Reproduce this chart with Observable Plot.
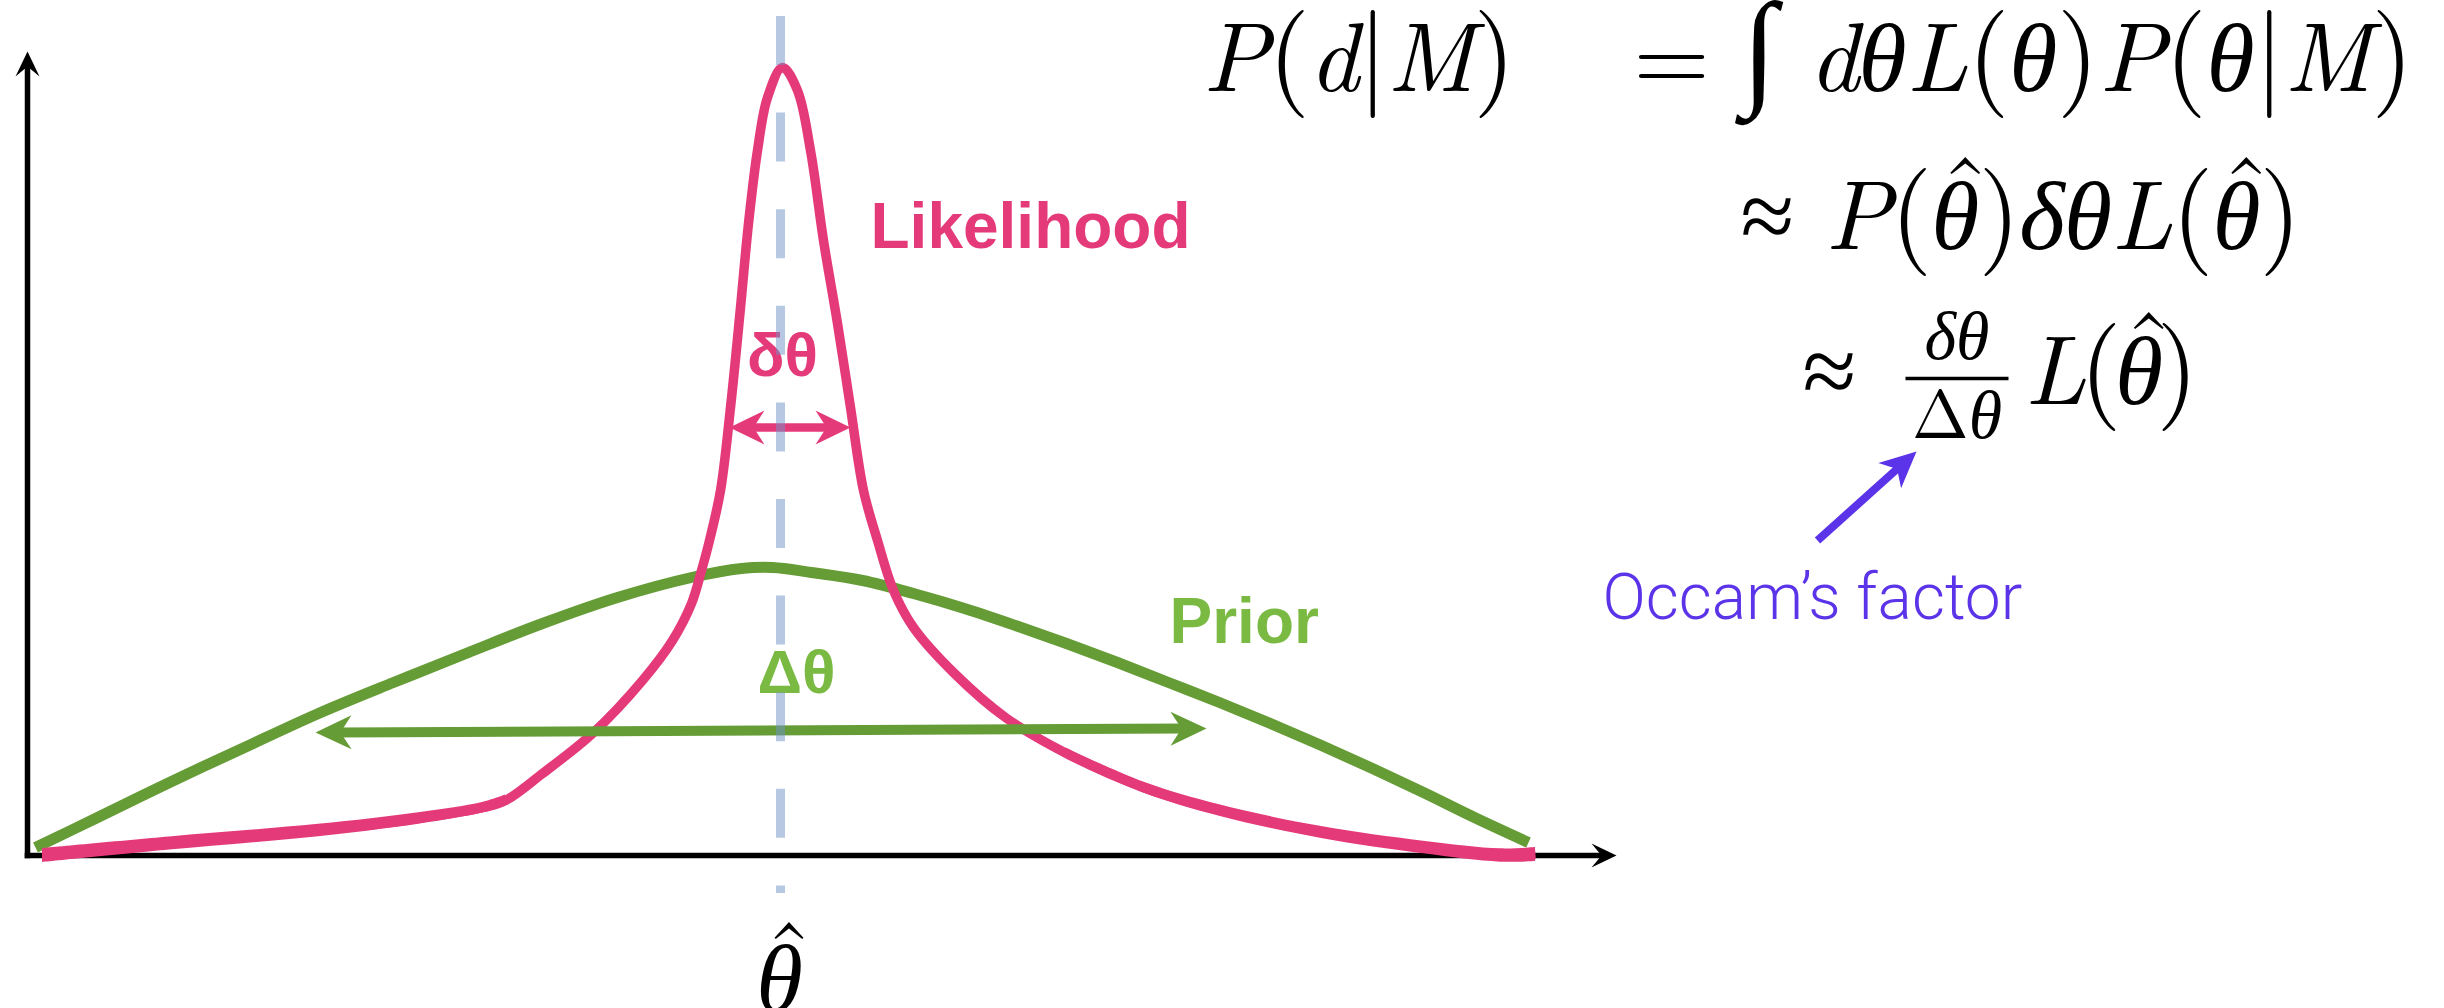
<!DOCTYPE html>
<html>
<head>
<meta charset="utf-8">
<script src="https://cdn.jsdelivr.net/npm/d3@7"></script>
<script src="https://cdn.jsdelivr.net/npm/@observablehq/plot@0.6"></script>
<style>
  html, body { margin: 0; padding: 0; background: #fff; overflow: hidden; }
  #chart svg { display: block; }
</style>
</head>
<body>
<div id="chart"></div>
<script>
// ---- data (θ measured from θ̂, density in arbitrary units) ----
const priorTheta   = [-7.45, -6.85, -6.11, -5.36, -4.62, -3.87, -3.12, -2.38, -1.63, -0.89, -0.39, -0.08, 0.31, 0.82, 1.33, 1.84, 2.35, 2.86, 3.37, 3.88, 4.39, 4.90, 5.41, 5.92, 6.43, 6.94, 7.48];
const priorDensity = [ 0.08,  0.37,  0.73,  1.08,  1.42,  1.73,  2.03,  2.32,  2.58,  2.78,  2.87,  2.88, 2.83, 2.75, 2.62, 2.47, 2.30, 2.12, 1.93, 1.73, 1.53, 1.32, 1.10, 0.87, 0.63, 0.38, 0.13];

const likeTheta   = [-7.38, -6.11, -4.62, -3.62, -2.97, -2.75, -2.38, -1.88, -1.38, -1.08, -0.89, -0.79, -0.71, -0.60, -0.50, -0.40, -0.32, -0.23, -0.13, 0.02, 0.17, 0.30, 0.43, 0.57, 0.70, 0.83, 0.97, 1.13, 1.33, 1.74, 2.25, 2.86, 3.63, 4.39, 5.41, 6.43, 7.20, 7.55];
const likeDensity = [ 0.00,  0.12,  0.25,  0.37,  0.48,  0.55,  0.82,  1.22,  1.75,  2.15,  2.52,  2.85,  3.15,  3.65,  4.48,  5.48,  6.32,  7.05,  7.58, 7.88, 7.65, 7.05, 6.15, 5.32, 4.48, 3.65, 3.15, 2.65, 2.28, 1.82, 1.38, 1.02, 0.68, 0.45, 0.23, 0.08, 0.00, 0.01];

const axisOrigin = [-7.53, 0];
const axisXEnd = 8.36;
const axisYEnd = 8.04;

const thetaHat = 0;
const thetaHatRule = [8.39, -0.38];          // top, bottom of the dashed guide

const smallWidthTheta = [-0.51, 0.70];       // δθ arrow ends
const smallWidthP = [4.28, 4.28];
const wideWidthTheta = [-4.65, 4.26];        // Δθ arrow ends
const wideWidthP = [1.23, 1.27];

const curveLabels = ["Likelihood", "Prior"];
const curveLabelTheta = [0.90, 3.89];
const curveLabelP = [6.08, 2.13];

const widthLabels = ["δθ", "Δθ"];
const widthLabelTheta = [0.02, 0.16];
const widthLabelP = [4.80, 1.63];

const eqTexts = ["P(d|M)", "= ∫ dθL(θ)P(θ|M)", "≈ P(θ̂)δθL(θ̂)", "≈", "L(θ̂)"];
const eqTheta = [4.22, 8.53, 9.60, 10.22, 12.44];
const eqP = [7.65, 7.65, 6.07, 4.52, 4.52];

const fracTexts = ["δθ", "Δθ"];
const fracTheta = [11.56, 11.58];
const fracP = [4.97, 4.18];
const fracBarTheta = [11.25, 12.28];
const fracBarP = 4.77;

const occamText = "Occam’s factor";
const occamTextPos = [8.22, 2.37];
const occamArrowTheta = [10.37, 11.36];
const occamArrowP = [3.15, 4.04];

const hatLabel = "θ̂";
const hatLabelPos = [-0.01, -1.55];

// ---- styles ----
const pink = "#e53a7a", green = "#659c36", greenText = "#7aba43", purple = "#5b33e8", guideBlue = "#6f91c7";
const W = 2444, H = 1008;
const PX = 100; // pixels per data unit (both axes)

const prior = priorTheta.map((t, i) => ({theta: t, p: priorDensity[i]}));
const like = likeTheta.map((t, i) => ({theta: t, p: likeDensity[i]}));
const nL = like.length;

// brush-like stroke: the likelihood line gets thicker towards both tails
const baseW = 9.5, tailW = 14;
function taper(indices, wStart, wEnd) {
  return indices.map((i, k) => {
    const d = like[i];
    const a = like[Math.max(i - 1, 0)], b = like[Math.min(i + 1, nL - 1)];
    const slope = (b.p - a.p) / (b.theta - a.theta);
    const w = wStart + (wEnd - wStart) * k / (indices.length - 1);
    const half = w * Math.sqrt(1 + slope * slope) / 2 / PX;
    return {theta: d.theta, lo: d.p - half, hi: d.p + half};
  });
}
const leftTail = taper([0, 1, 2, 3, 4, 5], tailW, baseW);
const rightTail = taper([nL - 7, nL - 6, nL - 5, nL - 4, nL - 3, nL - 2, nL - 1], baseW, tailW);

function headSymbol(angleDeg, L, Wd, N) {
  const a = angleDeg * Math.PI / 180, c = Math.cos(a), s = Math.sin(a);
  const pts = [[0, 0], [-L, -Wd], [-N, 0], [-L, Wd]].map(([x, y]) => [x * c - y * s, x * s + y * c]);
  return {draw(ctx) { ctx.moveTo(pts[0][0], pts[0][1]); for (let i = 1; i < pts.length; ++i) ctx.lineTo(pts[i][0], pts[i][1]); ctx.closePath(); }};
}

// arrow from (t1,p1) to (t2,p2); heads at "end" or "both"
function arrow(t1, p1, t2, p2, {color, width, L, Wd, N, heads = "end"}) {
  const dx = (t2 - t1) * PX, dy = (p2 - p1) * PX;
  const len = Math.hypot(dx, dy);
  const ux = (t2 - t1) / (len / PX), uy = (p2 - p1) / (len / PX);
  const cut = (N - 3) / PX;
  const s1 = heads === "both" ? [t1 + ux * cut, p1 + uy * cut] : [t1, p1];
  const s2 = [t2 - ux * cut, p2 - uy * cut];
  const ang = Math.atan2(-dy, dx) * 180 / Math.PI;
  const marks = [
    Plot.link([0], {x1: s1[0], y1: s1[1], x2: s2[0], y2: s2[1], stroke: color, strokeWidth: width, strokeLinecap: "butt"}),
    Plot.dot([0], {x: t2, y: p2, r: 5, symbol: headSymbol(ang, L, Wd, N), fill: color, stroke: "none"})
  ];
  if (heads === "both") marks.push(Plot.dot([0], {x: t1, y: p1, r: 5, symbol: headSymbol(ang + 180, L, Wd, N), fill: color, stroke: "none"}));
  return marks;
}

const sansBold = "'Helvetica Neue', 'Liberation Sans', Arial, sans-serif";
const serif = "'Latin Modern Roman', 'Liberation Serif', 'DejaVu Serif', serif";

const chart = Plot.plot({
  width: W,
  height: H,
  margin: 0,
  x: {domain: [-780 / PX, (W - 780) / PX], range: [0, W], axis: null},
  y: {domain: [(855 - H) / PX, 855 / PX], range: [H, 0], axis: null},
  style: {background: "white", overflow: "visible"},
  marks: [
    // axes
    ...arrow(axisOrigin[0] - 0.028, axisOrigin[1], axisXEnd, axisOrigin[1], {color: "black", width: 5.5, L: 25, Wd: 12, N: 15}),
    ...arrow(axisOrigin[0], axisOrigin[1] - 0.028, axisOrigin[0], axisYEnd, {color: "black", width: 5.5, L: 25, Wd: 12, N: 15}),
    // prior
    Plot.line(prior, {x: "theta", y: "p", stroke: green, strokeWidth: 11, curve: "catmull-rom", strokeLinecap: "butt"}),
    // likelihood
    Plot.line(like, {x: "theta", y: "p", stroke: pink, strokeWidth: baseW, curve: "catmull-rom", strokeLinecap: "butt", strokeLinejoin: "round"}),
    Plot.areaY(leftTail, {x: "theta", y1: "lo", y2: "hi", fill: pink, curve: "catmull-rom"}),
    Plot.areaY(rightTail, {x: "theta", y1: "lo", y2: "hi", fill: pink, curve: "catmull-rom"}),
    // width arrows
    ...arrow(wideWidthTheta[0], wideWidthP[0], wideWidthTheta[1], wideWidthP[1], {color: green, width: 10, L: 36, Wd: 17, N: 25, heads: "both"}),
    ...arrow(smallWidthTheta[0], smallWidthP[0], smallWidthTheta[1], smallWidthP[1], {color: pink, width: 8.5, L: 35, Wd: 17, N: 24, heads: "both"}),
    // curve labels
    Plot.text(curveLabels, {x: (d, i) => curveLabelTheta[i], y: (d, i) => curveLabelP[i], text: d => d,
      fill: (d, i) => i === 0 ? pink : greenText, textAnchor: "start", lineAnchor: "bottom",
      fontSize: 64, fontWeight: "bold", fontFamily: sansBold}),
    Plot.text(widthLabels, {x: (d, i) => widthLabelTheta[i], y: (d, i) => widthLabelP[i], text: d => d,
      fill: (d, i) => i === 0 ? pink : greenText, textAnchor: "middle", lineAnchor: "bottom",
      fontSize: 62, fontWeight: "bold", fontFamily: sansBold}),
    // equations
    Plot.text(eqTexts, {x: (d, i) => eqTheta[i], y: (d, i) => eqP[i], text: d => d, fill: "black",
      textAnchor: "start", lineAnchor: "bottom", fontSize: 98, fontStyle: "italic", fontFamily: serif}),
    Plot.text(fracTexts, {x: (d, i) => fracTheta[i], y: (d, i) => fracP[i], text: d => d, fill: "black",
      textAnchor: "start", lineAnchor: "bottom", fontSize: 68, fontStyle: "italic", fontFamily: serif}),
    Plot.link([0], {x1: fracBarTheta[0], x2: fracBarTheta[1], y1: fracBarP, y2: fracBarP, stroke: "black", strokeWidth: 3.5}),
    // Occam's factor
    ...arrow(occamArrowTheta[0], occamArrowP[0], occamArrowTheta[1], occamArrowP[1], {color: purple, width: 8, L: 36, Wd: 17, N: 26}),
    Plot.text([occamText], {x: occamTextPos[0], y: occamTextPos[1], text: d => d, fill: purple,
      textAnchor: "start", lineAnchor: "bottom", fontSize: 64, fontWeight: 300,
      fontFamily: "'Helvetica Neue', Roboto, 'Liberation Sans', sans-serif"}),
    // θ̂ label
    Plot.text([hatLabel], {x: hatLabelPos[0], y: hatLabelPos[1], text: d => d, fill: "black",
      textAnchor: "middle", lineAnchor: "bottom", fontSize: 95, fontStyle: "italic", fontFamily: serif}),
    // dashed guide at θ̂ (drawn on top, translucent)
    Plot.ruleX([thetaHat], {x: d => d, y1: thetaHatRule[0], y2: thetaHatRule[1], stroke: guideBlue, strokeOpacity: 0.5,
      strokeWidth: 9, strokeDasharray: "49,47.6"})
  ]
});

document.getElementById("chart").appendChild(chart);

// ---- typesetting of the math texts: upright operators, hats over θ, fitted widths ----
const svgns = "http://www.w3.org/2000/svg";
const eqWidths = {"P(d|M)": 313, "= ∫ dθL(θ)P(θ|M)": 780, "≈ P(θ)δθL(θ)": 561, "L(θ)": 174};
const fracCenters = {"δθ": 0, "Δθ": 1};

d3.select(chart).selectAll("text").each(function() {
  if (getComputedStyle(this).fontStyle !== "italic") return;
  const raw = this.textContent;
  const hats = [];
  let clean = "";
  for (const ch of raw) {
    if (ch === "\u0302") hats.push(clean.length - 1);
    else clean += ch;
  }
  const F = parseFloat(getComputedStyle(this).fontSize);
  this.textContent = "";
  for (const m of clean.matchAll(/([=∫≈()|Δ ]+)|([^=∫≈()|Δ ]+)/g)) {
    if (m[1]) {
      for (const ch of m[1]) {
        const t = document.createElementNS(svgns, "tspan");
        t.textContent = ch;
        t.setAttribute("font-style", "normal");
        if (ch === "∫") t.setAttribute("font-size", "1.3em");
        if (ch === "(" || ch === ")" || ch === "|") t.setAttribute("font-size", "1.1em");
        this.appendChild(t);
      }
    } else {
      const t = document.createElementNS(svgns, "tspan");
      t.textContent = m[2];
      this.appendChild(t);
    }
  }
  if (eqWidths[clean]) { this.setAttribute("textLength", eqWidths[clean]); this.setAttribute("lengthAdjust", "spacing"); }
  if (getComputedStyle(this).textAnchor === "start" && clean in fracCenters && F < 80) {
    // center the fraction parts on the fraction bar
    const w = this.getComputedTextLength();
    const cx = (fracBarTheta[0] + fracBarTheta[1]) / 2;
    const tr = this.getAttribute("transform");
    const bx = (cx - (-780 / PX)) * PX;
    const m = /translate\(([-\d.]+),\s*([-\d.]+)\)/.exec(tr || "");
    if (m) this.setAttribute("transform", `translate(${bx - w / 2},${m[2]})`);
  }
  for (const i of hats) {
    const s = this.getStartPositionOfChar(i), e = this.getEndPositionOfChar(i);
    const h = document.createElementNS(svgns, "text");
    h.setAttribute("x", (s.x + e.x) / 2 + 0.1 * F);
    h.setAttribute("y", s.y - 0.24 * F);
    h.setAttribute("text-anchor", "middle");
    h.setAttribute("font-style", "normal");
    h.setAttribute("font-size", F);
    const tr = this.getAttribute("transform");
    if (tr) h.setAttribute("transform", tr);
    h.textContent = "ˆ";
    this.parentNode.appendChild(h);
  }
});
</script>
</body>
</html>
